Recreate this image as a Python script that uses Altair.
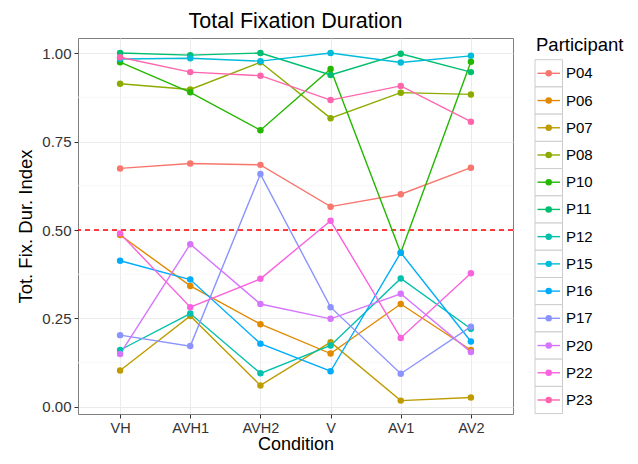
import altair as alt
import pandas as pd

conditions = ["VH", "AVH1", "AVH2", "V", "AV1", "AV2"]
participants = ["P04", "P06", "P07", "P08", "P10", "P11", "P12",
                "P15", "P16", "P17", "P20", "P22", "P23"]
colors = ["#F8766D", "#E18A00", "#BE9C00", "#8CAB00", "#24B700", "#00BE70",
          "#00C1AB", "#00BBDA", "#00ACFC", "#8B93FF", "#D575FE", "#F962DD",
          "#FF65AC"]

p04 = [0.674, 0.688, 0.684, 0.566, 0.601, 0.676]
p06 = [0.486, 0.342, 0.234, 0.151, 0.291, 0.161]
p07 = [0.103, 0.257, 0.061, 0.183, 0.018, 0.027]
p08 = [0.913, 0.897, 0.974, 0.816, 0.888, 0.883]
p10 = [0.974, 0.889, 0.782, 0.955, 0.436, 0.975]
p11 = [1.000, 0.994, 1.000, 0.938, 0.998, 0.946]
p12 = [0.161, 0.264, 0.095, 0.174, 0.363, 0.221]
p15 = [0.983, 0.985, 0.977, 1.000, 0.973, 0.992]
p16 = [0.413, 0.360, 0.179, 0.101, 0.436, 0.185]
p17 = [0.203, 0.172, 0.658, 0.282, 0.094, 0.227]
p20 = [0.150, 0.460, 0.291, 0.249, 0.320, 0.155]
p22 = [0.490, 0.282, 0.362, 0.526, 0.195, 0.378]
p23 = [0.988, 0.946, 0.936, 0.867, 0.907, 0.806]

y_ticks = [0.0, 0.25, 0.5, 0.75, 1.0]
y_minor = [0.125, 0.375, 0.625, 0.875]
threshold = [0.5]
chart_title = "Total Fixation Duration"
legend_title = "Participant"

series = [p04, p06, p07, p08, p10, p11, p12, p15, p16, p17, p20, p22, p23]
rows = [
    {"Participant": p, "Condition": c, "value": v}
    for p, vals in zip(participants, series)
    for c, v in zip(conditions, vals)
]
df = pd.DataFrame(rows)
leg_df = pd.DataFrame({"Participant": participants})
leg_title_df = pd.DataFrame({"t": [legend_title]})
title_df = pd.DataFrame({"t": [chart_title]})
minor_df = pd.DataFrame({"v": y_minor})
thr_df = pd.DataFrame({"v": threshold})

FONT = "Liberation Sans"
W, H = 435, 376

xscale = alt.Scale(type="point", domain=conditions, padding=0.6)
yscale = alt.Scale(domain=[-0.0198, 1.0424], nice=False, zero=False)
cscale = alt.Scale(domain=participants, range=colors)

x_enc = alt.X("Condition:N", scale=xscale, sort=conditions,
              axis=alt.Axis(title="Condition", labelFontSize=14.5, titleFontSize=18,
                            labelAngle=0, tickSize=4, labelPadding=3, titlePadding=1,
                            grid=True, gridColor="#EBEBEB", domain=False,
                            tickColor="#333333", labelColor="#333333",
                            titleColor="#000000", titleFontWeight="normal",
                            labelFont=FONT, titleFont=FONT))
y_axis = alt.Axis(title="Tot. Fix. Dur. Index", values=y_ticks, format=".2f",
                  labelFontSize=15, titleFontSize=18.5, tickSize=4, labelPadding=3,
                  titlePadding=6, grid=True, gridColor="#EBEBEB", domain=False,
                  tickColor="#333333", labelColor="#333333", titleColor="#000000",
                  titleFontWeight="normal", labelFont=FONT, titleFont=FONT)

minor = alt.Chart(minor_df).mark_rule(color="#F4F4F4", strokeWidth=0.8).encode(
    y=alt.Y("v:Q", scale=yscale, axis=None))

hline = alt.Chart(thr_df).mark_rule(color="#FF0000", strokeWidth=1.5,
                                    strokeDash=[5, 4]).encode(
    y=alt.Y("v:Q", scale=yscale, axis=None))

lines = alt.Chart(df).mark_line(strokeWidth=1.4).encode(
    x=x_enc,
    y=alt.Y("value:Q", scale=yscale, axis=None),
    color=alt.Color("Participant:N", scale=cscale, legend=None),
    detail="Participant:N")

points = alt.Chart(df).mark_point(filled=True, size=42, opacity=1).encode(
    x=x_enc,
    y=alt.Y("value:Q", scale=yscale, axis=y_axis),
    color=alt.Color("Participant:N", scale=cscale, legend=None))

# legend (drawn from the participants list)
lscale = alt.Scale(type="band", domain=participants, range=[21.7, 375.6],
                   paddingInner=0, paddingOuter=0)
leg_y = alt.Y("Participant:N", scale=lscale, axis=None, sort=participants)

leg_box = alt.Chart(leg_df).mark_rect(fill="white", stroke="#CCCCCC",
                                      strokeWidth=1).encode(
    y=leg_y, x=alt.value(457), x2=alt.value(484.5))
leg_line = alt.Chart(leg_df).mark_rule(strokeWidth=1.4).encode(
    y=leg_y, x=alt.value(459.5), x2=alt.value(482),
    color=alt.Color("Participant:N", scale=cscale, legend=None))
leg_pt = alt.Chart(leg_df).mark_point(filled=True, size=42, opacity=1).encode(
    y=leg_y, x=alt.value(470.7),
    color=alt.Color("Participant:N", scale=cscale, legend=None))
leg_lab = alt.Chart(leg_df).mark_text(align="left", baseline="middle",
                                      fontSize=15, font=FONT, color="#000000").encode(
    y=leg_y, x=alt.value(488), text="Participant:N")
leg_title = alt.Chart(leg_title_df).mark_text(align="left", baseline="middle",
                                              fontSize=18.5, font=FONT,
                                              color="#000000").encode(
    x=alt.value(458), y=alt.value(7), text="t:N")
main_title = alt.Chart(title_df).mark_text(align="center", baseline="alphabetic",
                                           fontSize=21.5, font=FONT,
                                           color="#000000").encode(
    x=alt.value(W / 2), y=alt.value(-10), text="t:N")

chart = alt.layer(minor, hline, lines, points,
                  leg_box, leg_line, leg_pt, leg_lab, leg_title,
                  main_title).resolve_scale(
    y="independent"
).properties(
    width=W, height=H,
    autosize=alt.AutoSizeParams(type="none"),
    padding={"left": 70, "top": 30, "right": 117, "bottom": 42},
    background="white",
).configure_view(stroke="#7F7F7F", strokeWidth=1)

chart.save("out.html", embed_options={"renderer": "svg", "actions": False})
